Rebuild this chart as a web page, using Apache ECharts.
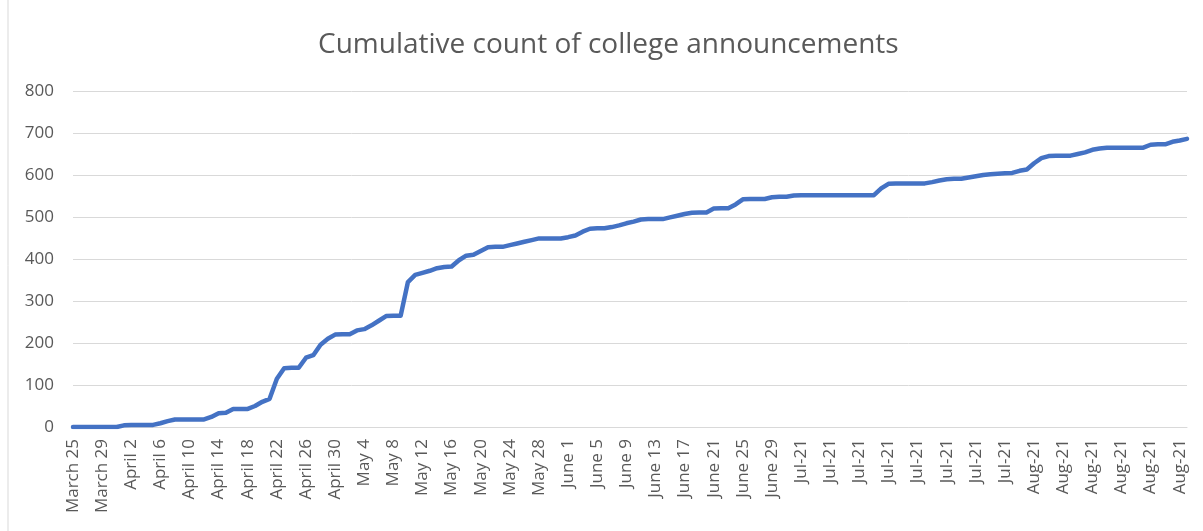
<!DOCTYPE html>
<html>
<head>
<meta charset="utf-8">
<script src="https://cdn.jsdelivr.net/npm/echarts@6/dist/echarts.min.js"></script>
<style>
html,body{margin:0;padding:0;background:#ffffff;}
#chart{width:1203px;height:531px;}
</style>
</head>
<body>
<div id="chart"></div>
<script>
// Cumulative count per day, split by month (2021)
const marchValues = [0,0,0,0,0,0,0];                       // Mar 25-31
const aprilValues = [4,5,5,5,5,9,14,18,18,18,18,18,24,33,34,43,43,43,50,60,67,115,140,141,141,165,171,196,210,220];
const mayValues   = [221,221,230,233,242,253,264,265,265,345,362,367,372,378,381,382,397,408,410,419,428,429,429,433,437,441,445,449,449,449,449];
const juneValues  = [452,456,465,472,473,473,476,480,485,489,494,495,495,495,499,503,507,510,511,511,520,521,521,530,542,543,543,543,547,548];
const julyValues  = [548,551,552,552,552,552,552,552,552,552,552,552,552,568,579,580,580,580,580,580,583,587,590,591,591,594,597,600,602,603,604];
const augValues   = [605,610,613,628,640,645,646,646,646,650,654,660,663,665,665,665,665,665,665,672,673,673,679,682,686]; // Aug 1-25

// Month blocks: [month number, first day, values]
const monthBlocks = [[3,25,marchValues],[4,1,aprilValues],[5,1,mayValues],[6,1,juneValues],[7,1,julyValues],[8,1,augValues]];

// Tick labels shown every 4th day
const tickLabels = ["March 25","March 29","April 2","April 6","April 10","April 14","April 18","April 22","April 26","April 30",
  "May 4","May 8","May 12","May 16","May 20","May 24","May 28","June 1","June 5","June 9","June 13","June 17","June 21","June 25","June 29",
  "Jul-21","Jul-21","Jul-21","Jul-21","Jul-21","Jul-21","Jul-21","Jul-21",
  "Aug-21","Aug-21","Aug-21","Aug-21","Aug-21","Aug-21"];

const categories = [];
const values = [];
monthBlocks.forEach(([m, d0, arr]) => {
  arr.forEach((v, i) => {
    categories.push('2021-' + String(m).padStart(2,'0') + '-' + String(d0 + i).padStart(2,'0'));
    values.push(v);
  });
});

const FONT = "'Open Sans', 'Liberation Sans', sans-serif";
const chart = echarts.init(document.getElementById('chart'), null, {renderer:'canvas'});
chart.setOption({
  backgroundColor: '#ffffff',
  animation: false,
  title: {
    text: 'Cumulative count of college announcements',
    left: 313,
    top: 26,
    textStyle: {fontFamily: FONT, fontSize: 28, fontWeight: 'normal', color: '#595959'}
  },
  graphic: [{
    type: 'line',
    shape: {x1: 8, y1: 0, x2: 8, y2: 531},
    style: {stroke: '#d9d9d9', lineWidth: 1}
  }],
  grid: {left: 73, right: 16, top: 91, bottom: 104, containLabel: false},
  xAxis: {
    type: 'category',
    data: categories,
    boundaryGap: false,
    axisLine: {show: true, lineStyle: {color: '#d9d9d9', width: 1}},
    axisTick: {show: false},
    axisLabel: {
      interval: 3,
      rotate: 90,
      margin: 12,
      fontFamily: FONT,
      fontSize: 17,
      color: '#595959',
      formatter: (val, idx) => tickLabels[idx / 4]
    },
    splitLine: {show: false}
  },
  yAxis: {
    type: 'value',
    min: 0,
    max: 800,
    interval: 100,
    axisLine: {show: false},
    axisTick: {show: false},
    axisLabel: {margin: 19, fontFamily: FONT, fontSize: 17, color: '#595959'},
    splitLine: {lineStyle: {color: '#d9d9d9', width: 1}}
  },
  series: [{
    type: 'line',
    data: values,
    showSymbol: false,
    symbol: 'none',
    lineStyle: {color: '#4472C4', width: 4.5, join: 'round', cap: 'round'},
    itemStyle: {color: '#4472C4'}
  }]
});
</script>
</body>
</html>
